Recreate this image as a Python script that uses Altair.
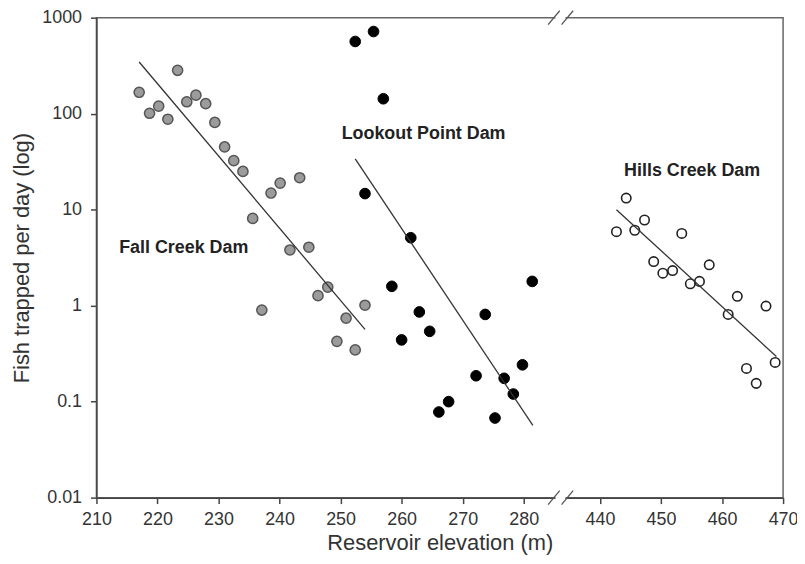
import altair as alt
import pandas as pd

# ---- data ----
SHIFT = 147.5  # compresses the broken x axis (440-470 drawn next to 210-285)

fall_x = [217.0, 218.7, 220.2, 221.7, 223.3, 224.8, 226.3, 227.9, 229.4, 231.0,
          232.5, 234.0, 235.6, 237.1, 238.6, 240.1, 241.7, 243.3, 244.8, 246.3,
          247.9, 249.4, 250.9, 252.4, 254.0]
fall_y = [167, 101, 120, 87.5, 283, 133, 156, 127, 81, 45,
          32.4, 25, 8.1, 0.90, 14.9, 18.9, 3.8, 21.5, 4.06, 1.27,
          1.56, 0.425, 0.74, 0.346, 1.01]

lookout_x = [252.4, 255.4, 257.0, 254.0, 261.5, 258.4, 281.4, 262.9, 260.0,
             264.6, 273.7, 272.2, 276.8, 278.3, 279.8, 267.7, 266.1, 275.3]
lookout_y = [565, 717, 143, 14.7, 5.1, 1.59, 1.79, 0.86, 0.44,
             0.54, 0.81, 0.186, 0.175, 0.12, 0.242, 0.100, 0.078, 0.0675]

hills_x = [444.3, 442.7, 445.7, 447.3, 453.4, 448.8, 450.3, 451.9, 457.9,
           454.8, 456.3, 462.5, 461.0, 467.2, 468.7, 464.0, 465.6]
hills_y = [13.2, 5.9, 6.1, 7.8, 5.66, 2.88, 2.18, 2.32, 2.66,
           1.69, 1.79, 1.25, 0.81, 0.99, 0.256, 0.222, 0.155]

# regression line end points
fit_dam = ["Fall Creek", "Fall Creek", "Lookout Point", "Lookout Point", "Hills Creek", "Hills Creek"]
fit_x = [217.0, 254.0, 252.4, 281.5, 442.7, 468.9]
fit_y = [345, 0.566, 33.8, 0.0566, 10.0, 0.295]

label_text = ["Fall Creek Dam", "Lookout Point Dam", "Hills Creek Dam"]
label_x = [224.3, 263.6, 455.1]
label_y = [4.0, 61.7, 25.5]

x_ticks = [210, 220, 230, 240, 250, 260, 270, 280, 440, 450, 460, 470]
y_ticks = [0.01, 0.1, 1, 10, 100, 1000]

# break marks (in elevation units of the left segment)
break_gap = [285.2, 286.85]
slash_x = [284.0, 286.2]
slash_x2 = [285.9, 288.1]


def to_plot(v):
    return v - SHIFT if v > 400 else v


def pts(xs, ys):
    return pd.DataFrame({"elev": xs, "fish": ys, "xp": [to_plot(v) for v in xs]})


fall_df = pts(fall_x, fall_y)
look_df = pts(lookout_x, lookout_y)
hill_df = pts(hills_x, hills_y)

fit_df = pd.DataFrame({"dam": fit_dam, "xp": [to_plot(v) for v in fit_x], "fish": fit_y})
lab_df = pd.DataFrame({"text": label_text, "xp": [to_plot(v) for v in label_x], "fish": label_y})
gap_df = pd.DataFrame({"xp": [break_gap[0]], "xp2": [break_gap[1]]})
slash_df = pd.DataFrame({"xp": slash_x, "xp2": slash_x2})

FONT = "Liberation Sans"

xscale = alt.Scale(domain=[210, 470 - SHIFT], nice=False, zero=False)
yscale = alt.Scale(type="log", domain=[0.01, 1000], nice=False)

x_enc = alt.X(
    "xp:Q", scale=xscale,
    axis=alt.Axis(
        title="Reservoir elevation (m)",
        values=[to_plot(v) for v in x_ticks],
        labelExpr=f"datum.value > 286 ? format(datum.value + {SHIFT}, 'd') : format(datum.value, 'd')",
        tickSize=6, labelPadding=7, titlePadding=4, labelFlush=False,
    ),
)
y_enc = alt.Y(
    "fish:Q", scale=yscale,
    axis=alt.Axis(
        title="Fish trapped per day (log)", values=y_ticks, format="~g",
        tickSize=6, labelPadding=9, titlePadding=8, labelFlush=False,
    ),
)

fall_layer = alt.Chart(fall_df).mark_point(
    shape="circle", filled=True, fill="#9b9b9b", stroke="#555555",
    strokeWidth=1.5, size=105, opacity=1
).encode(x=x_enc, y=y_enc)

look_layer = alt.Chart(look_df).mark_point(
    shape="circle", filled=True, fill="#000000", stroke="#000000",
    strokeWidth=1, size=115, opacity=1
).encode(x="xp:Q", y="fish:Q")

hill_layer = alt.Chart(hill_df).mark_point(
    shape="circle", filled=True, fill="#ffffff", stroke="#222222",
    strokeWidth=1.6, size=90, opacity=1
).encode(x="xp:Q", y="fish:Q")

fit_layer = alt.Chart(fit_df).mark_line(color="#333333", strokeWidth=1.3).encode(
    x="xp:Q", y="fish:Q", detail="dam:N"
)

text_layer = alt.Chart(lab_df).mark_text(
    font=FONT, fontSize=18, fontWeight="bold", color="#222222"
).encode(x="xp:Q", y="fish:Q", text="text:N")

gap_top = alt.Chart(gap_df).mark_rule(color="white", strokeWidth=4).encode(
    x="xp:Q", x2="xp2:Q", y=alt.value(0))
gap_bot = alt.Chart(gap_df).mark_rule(color="white", strokeWidth=4).encode(
    x="xp:Q", x2="xp2:Q", y=alt.value(483))
slash_top = alt.Chart(slash_df).mark_rule(color="#555555", strokeWidth=1.3).encode(
    x="xp:Q", x2="xp2:Q", y=alt.value(7), y2=alt.value(-7))
slash_bot = alt.Chart(slash_df).mark_rule(color="#555555", strokeWidth=1.3).encode(
    x="xp:Q", x2="xp2:Q", y=alt.value(490), y2=alt.value(476))

chart = alt.layer(
    fall_layer, look_layer, hill_layer, fit_layer, text_layer,
    gap_top, gap_bot, slash_top, slash_bot
).properties(
    width=691, height=483,
    autosize=alt.AutoSizeParams(type="none"),
    padding={"left": 89, "top": 8, "right": 14, "bottom": 57},
).configure_view(
    stroke="#666666", strokeWidth=1.5
).configure_axis(
    grid=False, domainColor="#444444", domainWidth=1.5, tickColor="#444444", tickWidth=1.5,
    labelFont=FONT, titleFont=FONT, labelFontSize=18, titleFontSize=22,
    labelColor="#333333", titleColor="#333333", titleFontWeight="normal",
)

chart.save("out.html", embed_options={"renderer": "svg", "actions": False})
